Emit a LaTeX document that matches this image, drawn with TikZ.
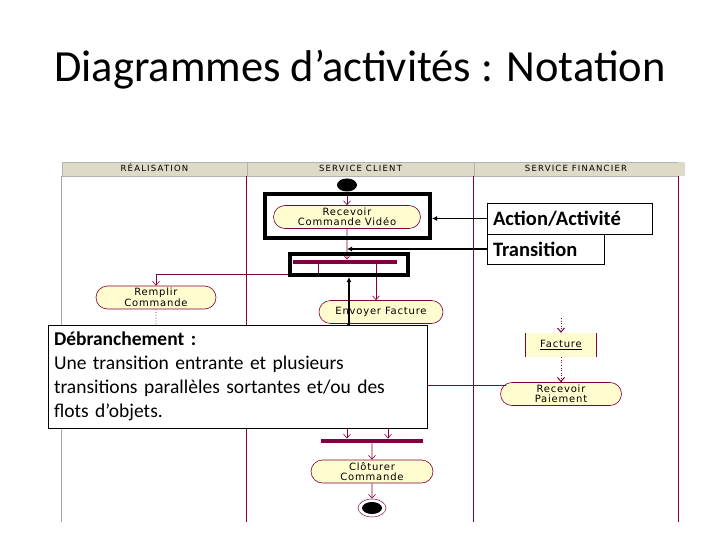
\documentclass[tikz,border=0pt]{standalone}
\usepackage{fontspec}
\setmainfont{Carlito}
\newfontfamily\umlfont[LetterSpace=8]{DejaVu Sans}
\newfontfamily\lanefont[LetterSpace=14]{DejaVu Sans}
\usetikzlibrary{shapes.geometric,shapes.misc,arrows.meta}

\definecolor{umlred}{RGB}{128,0,64}
\definecolor{umlcream}{RGB}{255,252,208}
\definecolor{laneback}{RGB}{222,218,200}

\tikzset{
  activity/.style={rounded rectangle, draw=umlred, line width=0.6pt, fill=umlcream,
    minimum height=23pt, inner xsep=4pt, inner ysep=1pt, align=center,
    font=\umlfont\fontsize{10}{10.5}\selectfont},
  syncbar/.style={rectangle, fill=umlred, minimum height=4.5pt, inner sep=0pt},
  flow/.style={draw=umlred, line width=0.6pt, ->},
  objflow/.style={flow, dotted, line width=1pt},
  hilite/.style={rectangle, draw=black, line width=4pt, inner sep=0pt},
  callout/.style={rectangle, draw=black, fill=white, line width=0.8pt, align=left,
    inner xsep=6pt, font=\fontsize{20.5}{24}\selectfont},
  pointer/.style={draw=black, line width=1.5pt, -{Latex[length=5pt,width=5pt]}},
  lanehead/.style={rectangle, fill=laneback, draw=gray!60, line width=0.5pt,
    minimum height=14pt, inner sep=0pt, text height=6pt, text depth=0pt,
    font=\lanefont\fontsize{8.5}{9}\selectfont}
}

\begin{document}
\begin{tikzpicture}[x=1pt, y=-1pt, >={Straight Barb[length=4pt,width=7pt]}]
  \useasboundingbox[fill=white] (0,0) rectangle (720,540);

  \node (title) at (360,70) {\fontsize{44.5}{50}\selectfont Diagrammes d’activités : Notation};

  % swimlanes
  \node[lanehead, minimum width=185pt] (lane-real)   at (154.5,169) {RÉALISATION};
  \node[lanehead, minimum width=227pt] (lane-client) at (360.5,169) {SERVICE CLIENT};
  \node[lanehead, minimum width=204pt] (lane-fin)    at (576,169)   {SERVICE FINANCIER};
  \fill[laneback] (678,162) rectangle (685,176);
  \draw[gray!70, line width=1pt] (lane-real.south west) -- ++(0,346);
  \draw[umlred, line width=0.6pt] (lane-client.south west) -- ++(0,346);
  \draw[umlred, line width=0.6pt] (lane-fin.south west) -- ++(0,346);
  \draw[umlred, line width=0.6pt] (lane-fin.south east) -- ++(0,346);

  % nodes
  \node[ellipse, fill=black, minimum width=20pt, minimum height=13pt, inner sep=0pt] (start) at (347,185) {};
  \node[activity, minimum width=155pt] (recv)     at (347,217)   {Recevoir\\Commande Vidéo};
  \node[syncbar, minimum width=104pt]  (fork)     at (345,262)   {};
  \node[activity, minimum width=128pt] (remplir)  at (156,297.5) {Remplir\\Commande};
  \node[activity, minimum width=132pt] (envoyer)  at (381,312)   {Envoyer Facture};
  \node[rectangle, fill=umlcream, minimum width=71pt, minimum height=24pt,
        font=\umlfont\fontsize{10}{10.5}\selectfont] (facture) at (561,345) {\underline{Facture}};
  \node[activity, minimum width=129pt] (recpaie)  at (561,394)   {Recevoir\\Paiement};
  \node[syncbar, minimum width=102pt]  (join)     at (372,441)   {};
  \node[activity, minimum width=130pt] (clot)     at (372,471.5) {Clôturer\\Commande};
  \node[ellipse, draw=umlred, fill=white, line width=0.5pt, minimum width=28pt, minimum height=18pt] (final) at (372,508) {};
  \node[ellipse, fill=black, minimum width=20pt, minimum height=12pt, inner sep=0pt] (final-dot) at (final) {};
  \coordinate (remplir-out) at (156,340);
  \coordinate (facture-in)  at (561,318);

  \draw[umlred, line width=0.6pt] (facture.north west) -- (facture.south west);
  \draw[umlred, line width=0.6pt] (facture.north east) -- (facture.south east);

  % flows
  \draw[flow] (start) -- (recv);
  \draw[flow] (recv) -- (recv |- fork.north);
  \draw[flow] ([xshift=-27pt]fork.south) -- ++(0,10) -| (remplir);
  \draw[flow] ([xshift=31pt]fork.south) -- ([xshift=31pt]fork.south |- envoyer.north);
  \draw[umlred, dotted, line width=0.8pt] (remplir) -- (remplir-out);
  \draw[flow] ([xshift=-34pt]envoyer.south) -- ([xshift=-34pt]envoyer.south |- join.north);
  \draw[objflow] (facture-in) -- (facture);
  \draw[objflow] (facture) -- (recpaie);
  \draw[flow] ([shift={(6pt,9pt)}]recpaie.west) -| ([xshift=16pt]join.north);
  \draw[flow] (join) -- (clot);
  \draw[flow] (clot) -- (final);

  % annotations
  \node[hilite, minimum width=165pt, minimum height=44pt] (recvbox) at (347.5,216)   {};
  \node[hilite, minimum width=118pt, minimum height=21pt] (forkbox) at (349,264.5)   {};
  \node[callout, minimum width=379pt, minimum height=103pt, text width=367pt,
        font=\fontsize{19.5}{24}\selectfont] (debr) at (237.5,376.5)
    {\textbf{Débranchement :}\\Une transition entrante et plusieurs\\transitions parallèles sortantes et/ou des\\flots d’objets.};
  \node[callout, minimum width=165pt, minimum height=31pt, text width=153pt] (act) at (569.5,218.5)
    {\textbf{Action/Activité}};
  \node[callout, minimum width=117pt, minimum height=30pt, text width=105pt] (trans) at (545.5,249)
    {\textbf{Transition}};

  \draw[pointer] (act.west) -- (act.west -| recvbox.east);
  \draw[pointer] (trans.west) -- (trans.west -| recv);
  \draw[pointer, line width=2.5pt] (debr.north -| forkbox) -- (forkbox.south);
\end{tikzpicture}
\end{document}
